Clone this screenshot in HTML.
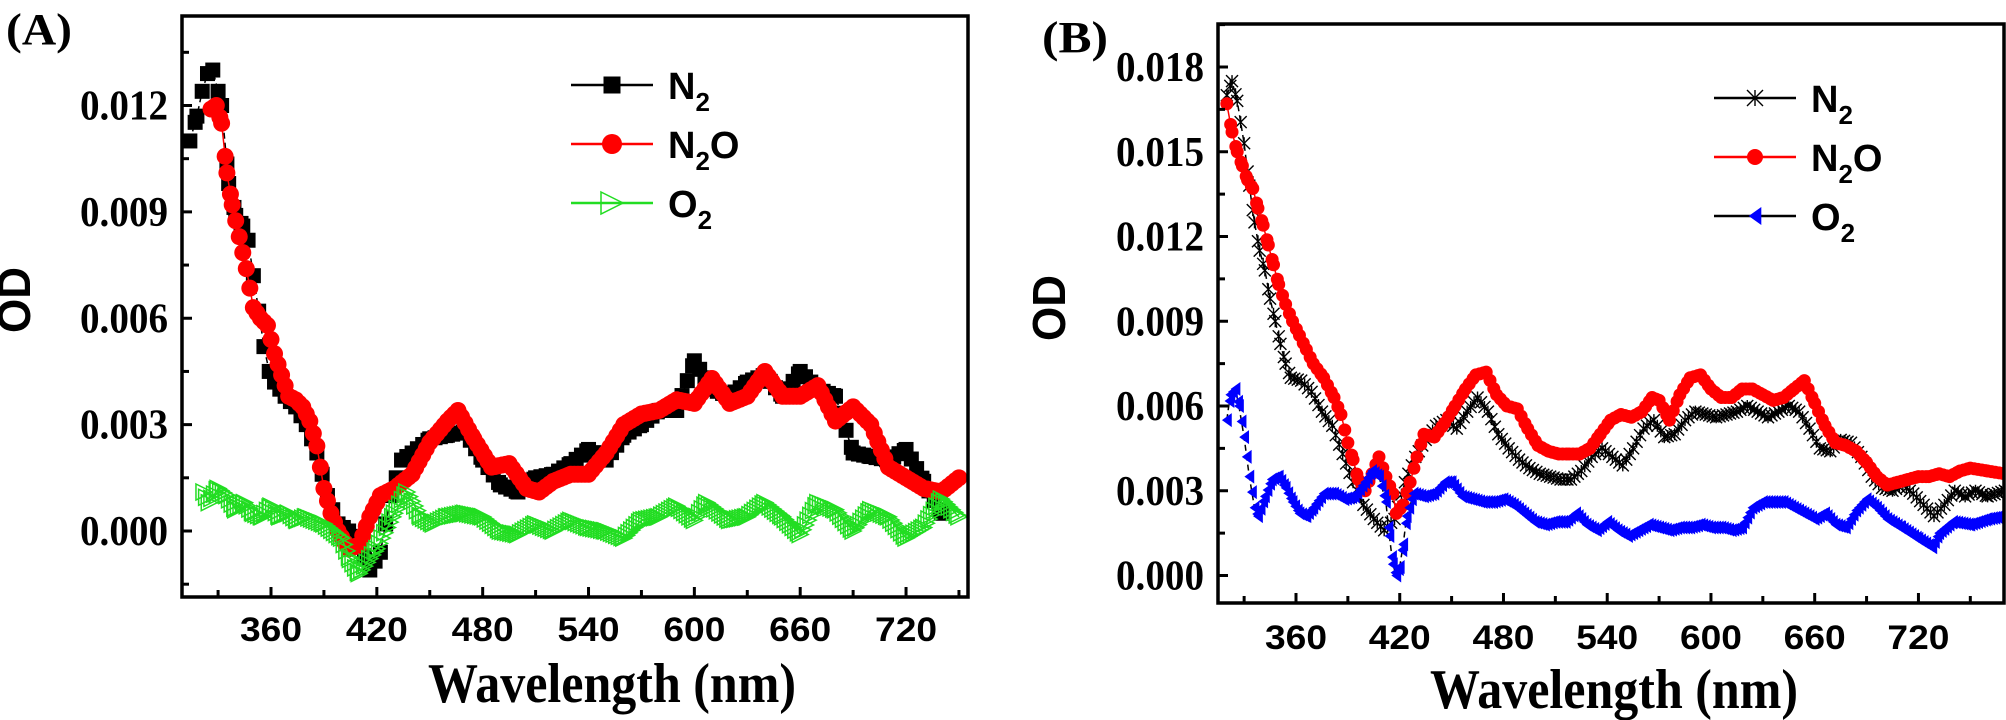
<!DOCTYPE html>
<html><head><meta charset="utf-8"><style>
html,body{margin:0;padding:0;background:#fff;}
svg{display:block;}
.tk{font-family:"Liberation Sans",sans-serif;font-weight:bold;}
.sf{font-family:"Liberation Serif",serif;font-weight:bold;}
</style></head><body>
<svg id="s" width="2006" height="720" xmlns="http://www.w3.org/2000/svg"></svg>
<script>
const S=document.getElementById('s');let h='';
function interp(d,step){const o=[];for(let i=0;i<d.length-1;i++){const[a,ya]=d[i],[b,yb]=d[i+1];for(let x=a;x<b;x+=step){o.push([x,ya+(yb-ya)*(x-a)/(b-a)]);}}o.push(d[d.length-1]);return o;}
function P(d){let a=[];for(let i=0;i<d.length;i+=2)a.push([d[i],d[i+1]]);return a;}
function panel(c){
 const X=x=>c.x0+(x-360)*c.kx, Y=y=>c.y0-y*c.ky;
 h+=`<defs><clipPath id="c${c.id}"><rect x="${c.L}" y="${c.T}" width="${c.R-c.L}" height="${c.B-c.T}"/></clipPath></defs>`;
 h+=`<g clip-path="url(#c${c.id})">`;
 c.series.forEach(s=>{
  const pts=interp(s.d,s.step);
  h+=`<polyline fill="none" stroke="${s.lc}" stroke-width="1.5" ${s.dash?'stroke-dasharray="6,4"':''} points="${s.d.map(p=>X(p[0]).toFixed(1)+','+Y(p[1]).toFixed(1)).join(' ')}"/>`;
  pts.forEach(p=>{const x=X(p[0]),y=Y(p[1]);h+=marker(s.m,x,y,s.col,s.sz);});
 });
 h+='</g>';
 h+=`<rect x="${c.L}" y="${c.T}" width="${c.R-c.L}" height="${c.B-c.T}" fill="none" stroke="#000" stroke-width="3.5"/>`;
 for(let w=330;w<=c.xmax;w+=30){const x=X(w);if(x<c.L||x>c.R)continue;const len=(w%60==0)?10:7;h+=`<line x1="${x}" y1="${c.B}" x2="${x}" y2="${c.B-len}" stroke="#000" stroke-width="3"/>`;}
 for(let v=c.ymin;v<=c.ymax+1e-9;v+=0.0015){const y=Y(v);if(y<c.T||y>c.B)continue;const maj=Math.abs(Math.round(v/0.003)*0.003-v)<1e-7;h+=`<line x1="${c.L}" y1="${y}" x2="${c.L+(maj?10:7)}" y2="${y}" stroke="#000" stroke-width="3"/>`;
  if(maj&&v>-1e-9)h+=`<text class="sf" x="${c.L-14}" y="${y+14}" font-size="42" text-anchor="end" textLength="${c.lw}" lengthAdjust="spacingAndGlyphs">${v.toFixed(3)}</text>`;}
 for(let w=360;w<=720;w+=60){h+=`<text class="tk" x="${X(w)}" y="${c.xb}" font-size="34" text-anchor="middle" textLength="62" lengthAdjust="spacingAndGlyphs">${w}</text>`;}
 h+=`<text class="sf" x="${c.wx}" y="${c.wy}" font-size="56" textLength="368" lengthAdjust="spacingAndGlyphs">Wavelength (nm)</text>`;
 h+=`<text class="tk" transform="translate(${c.odx},${c.ody}) rotate(-90)" font-size="46" text-anchor="middle" textLength="66" lengthAdjust="spacingAndGlyphs">OD</text>`;
 h+=`<text class="sf" x="${c.px}" y="${c.py}" font-size="44" textLength="66" lengthAdjust="spacingAndGlyphs">${c.lab}</text>`;
 c.leg.forEach((l,i)=>{const y=c.ly+i*59;h+=`<line x1="${c.lx}" y1="${y}" x2="${c.lx+82}" y2="${y}" stroke="${l.lc}" stroke-width="2.5"/>`+marker(l.m,c.lx+41,y,l.col,l.sz);
  h+=`<text class="tk" x="${c.lx+97}" y="${y+14}" font-size="38">${l.t}</text>`;});
}
function marker(m,x,y,col,sz){const r=sz/2;
 if(m=='sq')return `<rect x="${x-r}" y="${y-r}" width="${sz}" height="${sz}" fill="${col}"/>`;
 if(m=='ci')return `<circle cx="${x}" cy="${y}" r="${r}" fill="${col}"/>`;
 if(m=='tr')return `<polygon points="${x-r},${y-r} ${x+r},${y} ${x-r},${y+r}" fill="none" stroke="${col}" stroke-width="1.5"/>`;
 if(m=='tl')return `<polygon points="${x+r*0.7},${y-r} ${x-r*0.7},${y} ${x+r*0.7},${y+r}" fill="${col}"/>`;
 if(m=='st')return `<path d="M${x-r},${y-r}L${x+r},${y+r}M${x-r},${y+r}L${x+r},${y-r}M${x},${y-r}L${x},${y+r}" stroke="${col}" stroke-width="1.4"/>`;
}
panel({id:'A',L:182,R:968,T:16,B:597,x0:271,kx:1.764,y0:531,ky:425.5/0.012,ymin:-0.0015,ymax:0.0135,xmax:750,lw:88,xb:641,wx:428,wy:702,odx:30,ody:300,px:6,py:44,lab:'(A)',lx:571,ly:85,
 series:[
 {d:P([314,0.011,318,0.0117,321,0.0124,324,0.0129,327,0.013,332,0.012,336,0.0098,340,0.0089,344,0.0086,347,0.0082,350,0.0072,353,0.0062,356,0.0052,359,0.0045,362,0.0042,368,0.0038,374,0.0035,380,0.003,386,0.0022,392,0.001,398,0.0002,404,0,410,-0.0003,416,-0.0011,422,-0.0006,428,0.001,434,0.002,440,0.0022,450,0.0026,460,0.0027,470,0.0028,480,0.002,490,0.0013,500,0.0011,510,0.0015,520,0.0016,530,0.0019,540,0.0023,550,0.002,560,0.0027,570,0.003,580,0.0034,590,0.0034,600,0.0048,610,0.004,620,0.0038,630,0.0042,640,0.0044,650,0.0038,660,0.0045,670,0.004,680,0.0038,690,0.0022,700,0.0021,710,0.002,720,0.0023,730,0.0014,740,0.0005]),step:3,m:'sq',col:'#000',lc:'#000',sz:15,dash:true},
 {d:P([326,0.0119,329,0.012,332,0.0115,335,0.0101,338,0.0092,342,0.0083,346,0.0074,350,0.0063,354,0.006,358,0.0058,362,0.005,366,0.0044,370,0.0038,374,0.0037,378,0.0035,382,0.0031,386,0.0024,390,0.0012,394,0.0005,398,0,404,-0.0005,410,-0.0004,416,0.0004,422,0.001,430,0.0012,440,0.0016,450,0.0025,460,0.0031,466,0.0034,475,0.0026,485,0.0018,495,0.0019,505,0.0012,512,0.0011,520,0.0014,530,0.0016,540,0.0016,550,0.0022,560,0.003,570,0.0033,580,0.0034,590,0.0037,600,0.0036,610,0.0043,620,0.0036,630,0.0038,640,0.0045,650,0.0038,660,0.0038,670,0.0041,680,0.0031,690,0.0035,700,0.003,710,0.0018,720,0.0015,730,0.0012,740,0.0011,750,0.0015]),step:2,m:'ci',col:'#f00',lc:'#f00',sz:17},
 {d:P([322,0.0011,325,0.0008,330,0.0012,335,0.001,340,0.0006,345,0.0008,350,0.0005,355,0.0004,360,0.0007,365,0.0004,370,0.0005,375,0.0003,380,0.0004,390,0.0002,400,-0.0002,405,-0.0008,410,-0.0012,420,-0.0005,430,0.0005,437,0.0011,445,0.0004,452,0.0002,460,0.0004,470,0.0005,480,0.0004,490,0,500,-0.0001,510,0.0002,520,0,530,0.0003,540,0.0001,550,0,560,-0.0002,570,0.0003,580,0.0004,590,0.0007,600,0.0003,607,0.0008,620,0.0003,630,0.0004,640,0.0008,650,0.0004,660,-0.0001,670,0.0008,680,0.0006,690,0.0,700,0.0006,710,0.0004,720,-0.0002,730,0.0001,740,0.0009,750,0.0004]),step:1.5,m:'tr',col:'#2d2',lc:'#2d2',sz:16}],
 leg:[{m:'sq',col:'#000',lc:'#000',sz:17,t:'N<tspan font-size="26" dy="12">2</tspan>'},{m:'ci',col:'#f00',lc:'#f00',sz:20,t:'N<tspan font-size="26" dy="12">2</tspan><tspan dy="-12">O</tspan>'},{m:'tr',col:'#2d2',lc:'#2d2',sz:22,t:'O<tspan font-size="26" dy="12">2</tspan>'}]});
panel({id:'B',L:1218,R:2004,T:24,B:603,x0:1296,kx:1.729,y0:575.5,ky:508.5/0.018,ymin:-0.0015,ymax:0.0195,xmax:770,lw:88,xb:649,wx:1430,wy:708,odx:1065,ody:308,px:1042,py:52,lab:'(B)',lx:1714,ly:98,
 series:[
 {d:P([320,0.017,323,0.0175,326,0.0168,330,0.0153,333,0.0138,336,0.0125,339,0.0115,342,0.0108,345,0.0098,348,0.009,351,0.0082,354,0.0075,357,0.007,363,0.0069,369,0.0065,375,0.0058,381,0.0053,387,0.0043,393,0.0033,399,0.0025,405,0.002,411,0.0016,417,0.002,423,0.0033,429,0.0042,435,0.0048,441,0.0053,447,0.0055,453,0.0052,459,0.0058,465,0.0063,471,0.0058,477,0.005,483,0.0045,489,0.0041,495,0.0038,501,0.0036,507,0.0035,513,0.0034,519,0.0034,525,0.0037,531,0.0042,537,0.0045,543,0.0042,549,0.0039,555,0.0045,561,0.0052,567,0.0055,573,0.0049,579,0.005,585,0.0055,591,0.0058,597,0.0057,603,0.0056,609,0.0057,615,0.0058,621,0.006,627,0.0058,633,0.0056,639,0.0058,645,0.006,651,0.0058,657,0.0052,663,0.0045,669,0.0044,675,0.0048,681,0.0047,687,0.0042,693,0.0035,699,0.0031,705,0.003,711,0.0032,717,0.0029,723,0.0025,729,0.0021,735,0.0025,741,0.003,747,0.0028,753,0.003,760,0.0028,770,0.003]),step:2,m:'st',col:'#000',lc:'#000',sz:12,dash:true},
 {d:P([320,0.0167,323,0.0157,326,0.015,329,0.0145,332,0.014,335,0.0137,338,0.013,341,0.0124,344,0.0117,347,0.011,350,0.0103,354,0.0096,358,0.009,362,0.0085,366,0.008,370,0.0075,376,0.007,382,0.0063,386,0.0057,390,0.0047,393,0.0041,396,0.0034,400,0.003,404,0.0036,408,0.0042,412,0.0035,416,0.0029,418,0.0022,422,0.0025,426,0.0033,430,0.0042,434,0.005,440,0.0049,446,0.0054,452,0.006,458,0.0066,464,0.0071,470,0.0072,476,0.0064,482,0.006,488,0.0059,494,0.0052,500,0.0046,506,0.0044,512,0.0043,518,0.0043,524,0.0043,530,0.0045,536,0.005,542,0.0055,548,0.0057,554,0.0056,560,0.0058,566,0.0063,570,0.0062,576,0.0055,582,0.0064,588,0.007,594,0.0071,600,0.0066,606,0.0063,612,0.0063,618,0.0066,624,0.0066,630,0.0064,636,0.0062,642,0.0063,648,0.0066,654,0.0069,660,0.0061,666,0.0053,672,0.0047,678,0.0046,684,0.0044,690,0.004,696,0.0035,702,0.0032,708,0.0033,714,0.0034,720,0.0035,726,0.0035,732,0.0036,738,0.0035,744,0.0037,750,0.0038,760,0.0037,770,0.0036]),step:2.2,m:'ci',col:'#f00',lc:'#f00',sz:13},
 {d:P([320,0.0055,322,0.0064,325,0.0066,327,0.006,330,0.0049,333,0.0035,336,0.0024,338,0.0021,342,0.0028,346,0.0034,350,0.0035,354,0.0031,358,0.0026,362,0.0022,366,0.0021,370,0.0024,376,0.0029,382,0.0029,388,0.0027,394,0.0028,400,0.0033,404,0.0037,408,0.0035,412,0.0026,414,0.0014,416,0.0004,418,0.0,420,0.0003,422,0.0011,424,0.0021,428,0.0029,434,0.0028,440,0.0029,446,0.0033,450,0.0033,456,0.0028,462,0.0027,468,0.0026,474,0.0026,480,0.0027,486,0.0025,492,0.0022,498,0.0019,504,0.0018,510,0.0019,516,0.0019,522,0.0022,528,0.0018,534,0.0016,540,0.0019,546,0.0016,552,0.0014,558,0.0016,564,0.0018,570,0.0017,576,0.0016,582,0.0017,588,0.0017,594,0.0018,600,0.0017,606,0.0017,612,0.0016,618,0.0017,624,0.0024,630,0.0026,642,0.0026,648,0.0024,654,0.0022,660,0.002,666,0.0022,672,0.0018,678,0.0017,684,0.0023,690,0.0027,696,0.0024,702,0.002,710,0.0017,720,0.0013,728,0.001,732,0.0015,740,0.0019,750,0.0018,760,0.002,770,0.0021]),step:1.5,m:'tl',col:'#00f',lc:'#000',sz:14,dash:true}],
 leg:[{m:'st',col:'#000',lc:'#000',sz:16,t:'N<tspan font-size="26" dy="12">2</tspan>'},{m:'ci',col:'#f00',lc:'#f00',sz:16,t:'N<tspan font-size="26" dy="12">2</tspan><tspan dy="-12">O</tspan>'},{m:'tl',col:'#00f',lc:'#000',sz:18,t:'O<tspan font-size="26" dy="12">2</tspan>'}]});
S.innerHTML=h;
</script>
</body></html>
